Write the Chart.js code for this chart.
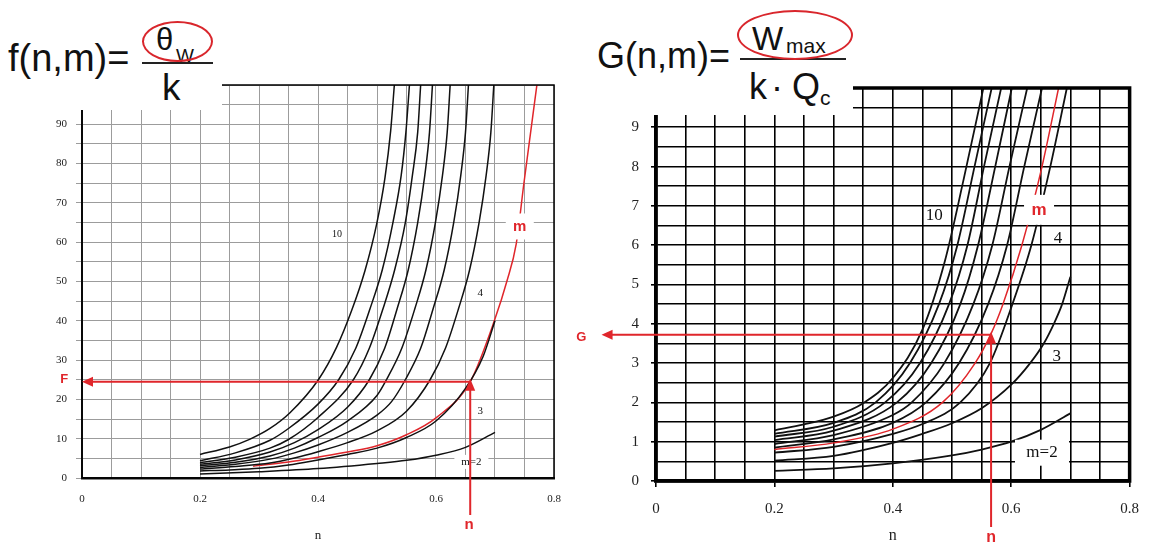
<!DOCTYPE html>
<html>
<head>
<meta charset="utf-8">
<script src="https://cdn.jsdelivr.net/npm/chart.js@4.4.1/dist/chart.umd.min.js"></script>
<style>
  html, body { margin: 0; padding: 0; background: #fff; }
  #page { position: relative; width: 1152px; height: 545px; overflow: hidden; background: #fff; }
  .panel { position: absolute; top: 0; width: 576px; height: 545px; }
  .cover { position: absolute; background: #fff; }
  .txt { position: absolute; font-family: 'Liberation Sans', Arial, sans-serif; color: #111; white-space: nowrap; line-height: 1; }
  .ring { position: absolute; border: 2px solid #d9262c; border-radius: 50%; box-sizing: border-box; }
  .bar { position: absolute; height: 2px; background: #222; }
</style>
</head>
<body>
<div id="page">
  <div class="panel" style="left:0"><canvas id="chartF" width="576" height="545"></canvas></div>
  <div class="panel" style="left:576px"><canvas id="chartG" width="576" height="545"></canvas></div>

  <!-- formula for the left chart, sits on a white patch over the grid -->
  <div class="cover" style="left:0;top:0;width:222px;height:110px"></div>
  <div class="txt" style="left:8px;top:39px;font-size:38px">f(n,m)=</div>
  <div class="txt" style="left:156px;top:24px;font-size:31px">θ</div>
  <div class="txt" style="left:176px;top:46px;font-size:19px">W</div>
  <div class="bar" style="left:142px;top:62px;width:71px"></div>
  <div class="txt" style="left:162px;top:69px;font-size:37px">k</div>
  <div class="ring" style="left:142px;top:21px;width:71px;height:41px"></div>

  <!-- formula for the right chart -->
  <div class="cover" style="left:568px;top:0;width:285px;height:115px"></div>
  <div class="txt" style="left:597px;top:38px;font-size:36px">G(n,m)=</div>
  <div class="txt" style="left:752px;top:22px;font-size:33px">W</div>
  <div class="txt" style="left:786px;top:35px;font-size:21px">max</div>
  <div class="bar" style="left:740px;top:58px;width:106px"></div>
  <div class="txt" style="left:749px;top:69px;font-size:36px">k</div>
  <div class="txt" style="left:771px;top:69px;font-size:36px">·</div>
  <div class="txt" style="left:792px;top:69px;font-size:36px">Q</div>
  <div class="txt" style="left:820px;top:87px;font-size:21px">c</div>
  <div class="ring" style="left:737px;top:10px;width:116px;height:50px"></div>
</div>

<script>
// ---- f(n,m) = θW / k  (left chart), one row per m ----
const fM = [2, 3, 4, 5, 6, 7, 8, 9, 10];
const fN = [
  [0.2, 0.3, 0.4, 0.5, 0.55, 0.6, 0.65, 0.7],
  [0.2, 0.25, 0.3, 0.35, 0.4, 0.45, 0.5, 0.55, 0.6, 0.65, 0.68, 0.7],
  [0.2, 0.26, 0.3186, 0.36, 0.4, 0.45, 0.5, 0.55, 0.59, 0.616, 0.638, 0.657, 0.673, 0.685, 0.693, 0.698],
  [0.2, 0.26, 0.3186, 0.36, 0.4, 0.45, 0.5, 0.525, 0.548, 0.574, 0.595, 0.614, 0.63, 0.642, 0.65, 0.655],
  [0.2, 0.26, 0.3186, 0.36, 0.4, 0.45, 0.5, 0.516, 0.542, 0.564, 0.583, 0.599, 0.611, 0.619, 0.624],
  [0.2, 0.26, 0.3186, 0.36, 0.4, 0.45, 0.487, 0.513, 0.534, 0.553, 0.569, 0.581, 0.589, 0.594],
  [0.2, 0.26, 0.3186, 0.35, 0.4, 0.46, 0.487, 0.51, 0.53, 0.548, 0.56, 0.569, 0.574],
  [0.2, 0.26, 0.3186, 0.35, 0.4, 0.435, 0.464, 0.488, 0.509, 0.527, 0.541, 0.549, 0.555],
  [0.2, 0.25, 0.285, 0.3186, 0.3525, 0.4006, 0.4316, 0.457, 0.4797, 0.4994, 0.5136, 0.5232, 0.5294]
];
const fV = [
  [1.0, 1.6, 2.4, 3.7, 4.5, 5.8, 7.8, 11.6],
  [1.8, 2.05, 2.45, 3.3, 4.6, 6.0, 7.6, 10.3, 14.5, 22.8, 31, 40],
  [2.3, 2.95, 3.8, 5.1, 6.7, 9.0, 12, 17, 25, 33, 43, 53, 65, 77, 88, 100],
  [2.7, 3.5, 4.8, 6.4, 8.4, 11.6, 16, 19.5, 25, 33, 43, 53, 65, 77, 88, 100],
  [3.1, 4.0, 5.6, 7.6, 10.3, 14.5, 21, 25, 33, 43, 53, 65, 77, 88, 100],
  [3.5, 4.6, 6.6, 9.0, 12.3, 18, 25, 33, 43, 53, 65, 77, 88, 100],
  [3.9, 5.3, 7.6, 9.8, 15.4, 25, 33, 43, 53, 65, 77, 88, 100],
  [4.4, 6.4, 9.6, 12.6, 18.8, 25, 33, 43, 53, 65, 77, 88, 100],
  [6, 7.9, 9.9, 12.6, 16.6, 25, 33.3, 42.6, 52.8, 64.6, 76.5, 88.4, 100]
];
// the red hand-drawn curve for the example m
const fRedN = [0.29, 0.35, 0.4, 0.45, 0.5, 0.55, 0.6, 0.658, 0.7, 0.72, 0.736, 0.749, 0.771];
const fRedV = [3.0, 4.1, 5.3, 6.6, 8.2, 11, 15.3, 24.5, 40.5, 50, 59.6, 75, 100];

// ---- G(n,m) = Wmax / (k·Qc)  (right chart) ----
const gM = [2, 3, 4, 5, 6, 7, 8, 9, 10];
const gN = [
  [0.2, 0.3, 0.4, 0.5, 0.55, 0.6, 0.65, 0.7],
  [0.2, 0.3, 0.4, 0.45, 0.5, 0.55, 0.6, 0.632, 0.655, 0.672, 0.686, 0.7],
  [0.2, 0.3, 0.4, 0.45, 0.514, 0.564, 0.602, 0.634, 0.666, 0.694],
  [0.2, 0.3, 0.4, 0.456, 0.512, 0.561, 0.593, 0.622, 0.652],
  [0.2, 0.3, 0.4, 0.432, 0.487, 0.536, 0.568, 0.597, 0.627],
  [0.2, 0.3, 0.407, 0.465, 0.514, 0.544, 0.573, 0.601],
  [0.2, 0.3, 0.387, 0.446, 0.495, 0.526, 0.554, 0.583],
  [0.2, 0.3, 0.371, 0.429, 0.478, 0.509, 0.538, 0.567],
  [0.2, 0.25, 0.3, 0.35, 0.4, 0.45, 0.488, 0.52, 0.553]
];
const gV = [
  [0.26, 0.32, 0.45, 0.65, 0.8, 1.0, 1.3, 1.72],
  [0.52, 0.64, 0.97, 1.2, 1.47, 1.85, 2.45, 3.0, 3.5, 4.0, 4.5, 5.2],
  [0.72, 0.87, 1.2, 1.45, 2, 3, 4.5, 6, 8, 10],
  [0.85, 1.06, 1.48, 2, 3, 4.5, 6, 8, 10],
  [0.94, 1.17, 1.68, 2, 3, 4.5, 6, 8, 10],
  [1.04, 1.28, 2, 3, 4.5, 6, 8, 10],
  [1.13, 1.38, 2, 3, 4.5, 6, 8, 10],
  [1.2, 1.48, 2, 3, 4.5, 6, 8, 10],
  [1.29, 1.44, 1.64, 1.98, 2.62, 3.85, 5.6, 7.7, 10]
];
const gRedN = [0.2, 0.3, 0.4, 0.484, 0.539, 0.566, 0.586, 0.618, 0.652, 0.68];
const gRedV = [0.8, 0.97, 1.32, 2, 3, 3.75, 4.5, 6, 8, 10];

// tick labels
const nTicks = ['0', '0.2', '0.4', '0.6', '0.8'];
const fTicks = [0, 10, 20, 30, 40, 50, 60, 70, 80, 90];
const gTicks = [0, 1, 2, 3, 4, 5, 6, 7, 8, 9];

const RED = '#e0262b';
const SERIF = "'Liberation Serif', 'Times New Roman', serif";
const SANS = "'Liberation Sans', Arial, sans-serif";

function toPoints(ns, vs) {
  return ns.map((n, i) => ({ x: n, y: vs[i] }));
}

function buildSets(ms, ns, vs, redN, redV, width) {
  let sets = ms.map((m, i) => ({
    label: 'm=' + m,
    data: toPoints(ns[i], vs[i]),
    borderColor: '#111',
    borderWidth: width,
    showLine: true,
    pointRadius: 0,
    cubicInterpolationMode: 'monotone'
  }));
  sets.push({
    label: 'm',
    data: toPoints(redN, redV),
    borderColor: RED,
    borderWidth: 1.5,
    showLine: true,
    pointRadius: 0,
    cubicInterpolationMode: 'monotone'
  });
  return sets;
}

function nLabel(v) {
  let s = v === 0 ? '0' : (+v.toFixed(2)).toString();
  return nTicks.includes(s) ? s : '';
}

// frame, curve labels and the red reading arrows
function annotate(cfg) {
  return {
    id: 'annotate',
    afterDatasetsDraw(chart) {
      const { ctx, chartArea: a, scales: { x, y } } = chart;
      ctx.save();
      ctx.strokeStyle = '#000';
      ctx.lineWidth = cfg.frame;
      ctx.strokeRect(a.left, a.top, a.right - a.left, a.bottom - a.top);

      cfg.labels.forEach(l => {
        const px = x.getPixelForValue(l.n), py = y.getPixelForValue(l.v);
        if (l.box) {
          ctx.fillStyle = '#fff';
          ctx.fillRect(px - l.box[0] / 2, py - l.box[1] / 2, l.box[0], l.box[1]);
        }
        ctx.font = l.font;
        ctx.textAlign = 'center';
        ctx.textBaseline = 'middle';
        ctx.fillStyle = l.color || '#111';
        ctx.fillText(l.text, px, py);
      });

      const r = cfg.arrow;
      const ax = x.getPixelForValue(r.n), ay = y.getPixelForValue(r.v);
      const bx = x.getPixelForValue(r.tailN), by = y.getPixelForValue(r.tailV);
      ctx.strokeStyle = RED;
      ctx.fillStyle = RED;
      ctx.lineWidth = 2;
      ctx.beginPath();
      ctx.moveTo(ax, by);
      ctx.lineTo(ax, ay + 8);
      ctx.moveTo(ax, ay);
      ctx.lineTo(bx + 8, ay);
      ctx.stroke();
      // heads
      ctx.beginPath();
      ctx.moveTo(ax, ay - 3);
      ctx.lineTo(ax - 5, ay + 9);
      ctx.lineTo(ax + 5, ay + 9);
      ctx.closePath();
      ctx.fill();
      ctx.beginPath();
      ctx.moveTo(bx, ay);
      ctx.lineTo(bx + 11, ay - 5);
      ctx.lineTo(bx + 11, ay + 5);
      ctx.closePath();
      ctx.fill();
      ctx.restore();
    }
  };
}

// LEFT CHART
new Chart(document.getElementById('chartF'), {
  type: 'scatter',
  data: { datasets: buildSets(fM, fN, fV, fRedN, fRedV, 1.5) },
  options: {
    responsive: false,
    animation: false,
    layout: { padding: { top: 85, right: 22, left: 0, bottom: 0 } },
    plugins: { legend: { display: false }, tooltip: { enabled: false } },
    scales: {
      x: {
        type: 'linear', min: 0, max: 0.8,
        afterFit: s => { s.height = 67; },
        ticks: {
          stepSize: 0.05, autoSkip: false, maxRotation: 0, padding: 15,
          color: '#222', font: { family: SERIF, size: 11 },
          callback: nLabel
        },
        grid: { color: '#9c9c9c', lineWidth: 1, drawTicks: false },
        border: { color: '#111', width: 2.5 },
        title: { display: true, text: 'n', color: '#222', font: { family: SERIF, size: 13 }, padding: { top: 0, bottom: 2 } }
      },
      y: {
        min: 0, max: 100,
        afterFit: s => { s.width = 82; },
        ticks: {
          stepSize: 5, autoSkip: false, padding: 9,
          color: '#222', font: { family: SERIF, size: 11 },
          callback: v => fTicks.includes(v) ? String(v) : ''
        },
        grid: { color: '#9c9c9c', lineWidth: 1, tickLength: 6 },
        border: { color: '#222', width: 2 }
      }
    }
  },
  plugins: [annotate({
    frame: 1.5,
    labels: [
      { text: '10', n: 0.432, v: 62, font: '10px ' + SERIF },
      { text: '4', n: 0.675, v: 47, font: '11px ' + SERIF },
      { text: '3', n: 0.675, v: 17, font: '11px ' + SERIF },
      { text: 'm=2', n: 0.66, v: 4.1, font: '11px ' + SERIF, box: [34, 14] },
      { text: 'm', n: 0.742, v: 64, font: 'bold 15px ' + SANS, color: RED, box: [28, 26] },
      { text: 'F', n: -0.03, v: 25, font: 'bold 13px ' + SANS, color: RED },
      { text: 'n', n: 0.656, v: -12, font: 'bold 15px ' + SANS, color: RED }
    ],
    arrow: { n: 0.658, v: 24.5, tailN: 0, tailV: -9.4 }
  })]
});

// RIGHT CHART
new Chart(document.getElementById('chartG'), {
  type: 'scatter',
  data: { datasets: buildSets(gM, gN, gV, gRedN, gRedV, 1.8) },
  options: {
    responsive: false,
    animation: false,
    layout: { padding: { top: 88, right: 13, left: 0, bottom: 0 } },
    plugins: { legend: { display: false }, tooltip: { enabled: false } },
    scales: {
      x: {
        type: 'linear', min: 0, max: 0.8,
        afterFit: s => { s.height = 64; },
        ticks: {
          stepSize: 0.05, autoSkip: false, maxRotation: 0, padding: 13,
          color: '#222', font: { family: SERIF, size: 15 },
          callback: nLabel
        },
        grid: {
          color: '#000', lineWidth: 1.6, tickLength: 6,
          tickColor: c => nLabel(c.tick.value) ? '#000' : 'rgba(0,0,0,0)'
        },
        border: { color: '#000', width: 3.5 },
        title: { display: true, text: 'n', color: '#222', font: { family: SERIF, size: 16 }, padding: { top: 0, bottom: 0 } }
      },
      y: {
        min: 0, max: 10,
        afterFit: s => { s.width = 80; },
        ticks: {
          stepSize: 0.5, autoSkip: false, padding: 12,
          color: '#222', font: { family: SERIF, size: 15 },
          callback: v => gTicks.includes(v) ? String(v) : ''
        },
        grid: {
          color: '#000', lineWidth: 1.6, tickLength: 5,
          tickColor: c => gTicks.includes(c.tick.value) ? '#000' : 'rgba(0,0,0,0)'
        },
        border: { color: '#000', width: 3.5 }
      }
    }
  },
  plugins: [annotate({
    frame: 3.5,
    labels: [
      { text: '10', n: 0.47, v: 6.76, font: '17px ' + SERIF },
      { text: '4', n: 0.679, v: 6.17, font: '17px ' + SERIF },
      { text: '3', n: 0.677, v: 3.16, font: '17px ' + SERIF },
      { text: 'm=2', n: 0.652, v: 0.72, font: '17px ' + SERIF, box: [54, 26] },
      { text: 'm', n: 0.647, v: 6.9, font: 'bold 17px ' + SANS, color: RED, box: [30, 30] },
      { text: 'G', n: -0.126, v: 3.65, font: 'bold 13px ' + SANS, color: RED },
      { text: 'n', n: 0.566, v: -1.45, font: 'bold 16px ' + SANS, color: RED }
    ],
    arrow: { n: 0.566, v: 3.72, tailN: -0.092, tailV: -1.17 }
  })]
});
</script>
</body>
</html>
